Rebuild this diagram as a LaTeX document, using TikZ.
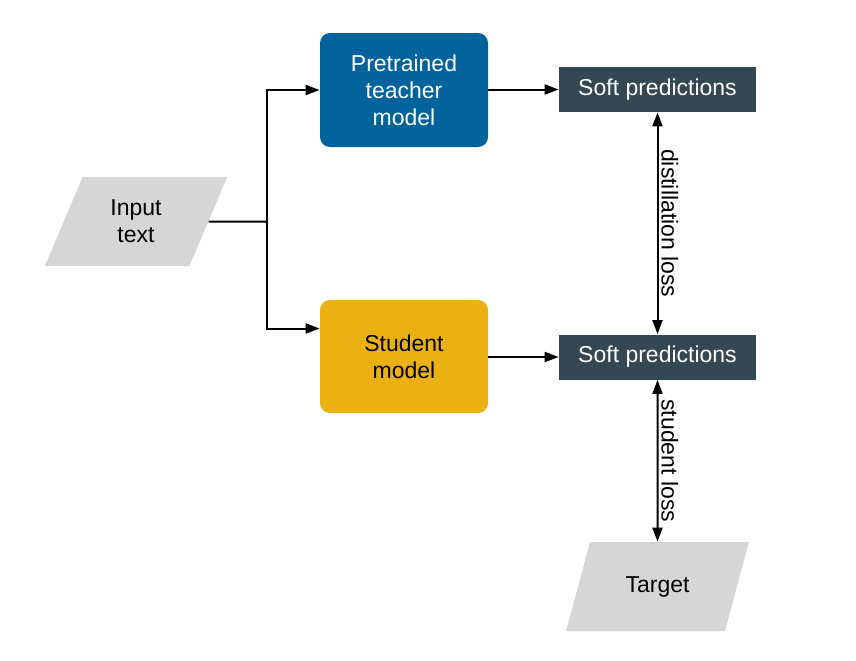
\documentclass[tikz,border=0pt]{standalone}
\usepackage{fontspec}
\setmainfont{Liberation Sans}
\usetikzlibrary{arrows.meta,shapes.geometric}
\definecolor{teacherblue}{HTML}{00639C}
\definecolor{studentgold}{HTML}{EBB112}
\definecolor{softslate}{HTML}{344853}
\definecolor{datagray}{HTML}{D6D6D6}
\tikzset{
	modelbox/.style={rounded corners=5pt, align=center, minimum width=84pt, font=\fontsize{11.5}{13.5}\selectfont},
	softbox/.style={fill=softslate, text=white, minimum width=98.5pt, minimum height=22.5pt, font=\fontsize{11.5}{13.5}\selectfont},
	databox/.style={trapezium, trapezium left angle=68, trapezium right angle=112, trapezium stretches=true,
		fill=datagray, minimum width=91.5pt, minimum height=44.5pt, align=center, font=\fontsize{11.5}{13.5}\selectfont},
	flow/.style={line width=1pt, -{Triangle[length=7pt,width=5pt]}},
	lossflow/.style={line width=1pt, {Triangle[length=7pt,width=5pt]}-{Triangle[length=7pt,width=5pt]}},
	losslabel/.style={midway, sloped, above, inner sep=1.5pt, font=\fontsize{11.5}{13.5}\selectfont}
}

\begin{document}
\begin{tikzpicture}[x=0.5pt, y=-0.5pt]
			%%%%% START %%%%%
			\useasboundingbox (0, 0) rectangle (856, 660);
			
			\node[databox] (input) at (136, 221.5) {Input\\text};
			\node[modelbox, fill=teacherblue, text=white, minimum height=57pt] (teacher) at (404, 90) {Pretrained\\teacher\\model};
			\node[modelbox, fill=studentgold, minimum height=56.5pt] (student) at (404, 356.5) {Student\\model};
			
			\node[softbox] (softteacher) at (657.5, 89.5) {Soft predictions};
			\node[softbox] (softstudent) at (657.5, 357) {Soft predictions};
			\node[databox] (target) at (657.5, 586.5) {Target};
			
			\coordinate (split) at (267, 221.5);
			\draw[line width=1pt] (input.east) -- (split);
			\draw[flow] (split) |- (teacher.west);
			\draw[flow] (split) |- ([yshift=14pt]student.west);
			
			\draw[flow] (teacher.east |- softteacher.west) -- (softteacher.west);
			\draw[flow] (student.east |- softstudent.west) -- (softstudent.west);
			
			\draw[lossflow] (softteacher.south) -- (softstudent.north) node[losslabel] {distillation loss};
			\draw[lossflow] (softstudent.south) -- (target.north) node[losslabel] {student loss};
			%%%%% END %%%%%
\end{tikzpicture}
\end{document}
